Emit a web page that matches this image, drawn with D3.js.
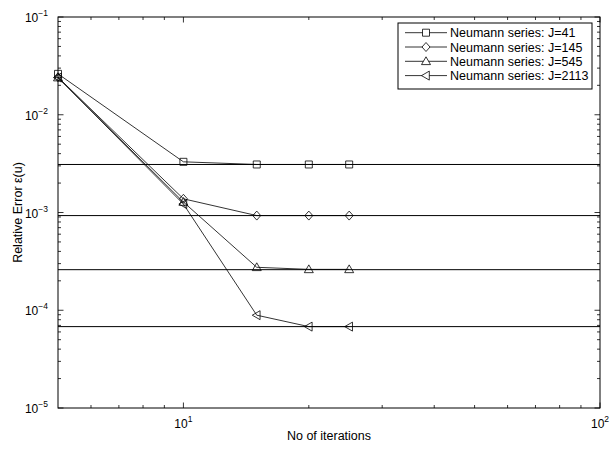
<!DOCTYPE html>
<html><head><meta charset="utf-8">
<script src="https://cdn.jsdelivr.net/npm/d3@7"></script>
<style>
body{margin:0;background:#fff;}
text{font-family:"Liberation Sans",Arial,Helvetica,sans-serif;fill:#000;}
</style></head>
<body><svg id="chart" width="612" height="450"></svg>
<script>
const iterations = [5, 10, 15, 20, 25];
const seriesNames = ["Neumann series: J=41", "Neumann series: J=145", "Neumann series: J=545", "Neumann series: J=2113"];
const markerTypes = ["square", "diamond", "triangleUp", "triangleLeft"];
const errJ41 = [2.62e-2, 3.3e-3, 3.1e-3, 3.1e-3, 3.1e-3];
const errJ145 = [2.42e-2, 1.38e-3, 9.3e-4, 9.3e-4, 9.3e-4];
const errJ545 = [2.4e-2, 1.28e-3, 2.75e-4, 2.62e-4, 2.62e-4];
const errJ2113 = [2.4e-2, 1.22e-3, 8.9e-5, 6.8e-5, 6.8e-5];
const referenceLevels = [3.1e-3, 9.3e-4, 2.6e-4, 6.8e-5];
const xTickValues = [10, 100];
const yTickValues = [1e-5, 1e-4, 1e-3, 1e-2, 1e-1];
const xLabel = "No of iterations";
const yLabel = "Relative Error \u03b5(u)";

const series = [errJ41, errJ145, errJ545, errJ2113].map((v, i) => ({name: seriesNames[i], marker: markerTypes[i], values: v}));

const svg = d3.select("#chart");
const L = 58, R = 600, T = 17, B = 408;
const x = d3.scaleLog().domain([5, 100]).range([L, R]);
const y = d3.scaleLog().domain([1e-5, 1e-1]).range([B, T]);

// minor ticks
const xMinor = [6,7,8,9,20,30,40,50,60,70,80,90];
const yMinor = [];
for (let e = -5; e < -1; e++) for (let m = 2; m <= 9; m++) yMinor.push(m * Math.pow(10, e));

const g = svg.append("g");
const tk = g.append("g").attr("stroke", "#000").attr("stroke-width", 0.8);
const major = 5.5, minor = 3;
xMinor.forEach(v => {
  const px = x(v);
  tk.append("line").attr("x1", px).attr("x2", px).attr("y1", B).attr("y2", B - minor);
  tk.append("line").attr("x1", px).attr("x2", px).attr("y1", T).attr("y2", T + minor);
});
xTickValues.forEach(v => {
  const px = x(v);
  tk.append("line").attr("x1", px).attr("x2", px).attr("y1", B).attr("y2", B - major);
  tk.append("line").attr("x1", px).attr("x2", px).attr("y1", T).attr("y2", T + major);
});
yMinor.forEach(v => {
  const py = y(v);
  tk.append("line").attr("x1", L).attr("x2", L + minor).attr("y1", py).attr("y2", py);
  tk.append("line").attr("x1", R).attr("x2", R - minor).attr("y1", py).attr("y2", py);
});
yTickValues.forEach(v => {
  const py = y(v);
  tk.append("line").attr("x1", L).attr("x2", L + major).attr("y1", py).attr("y2", py);
  tk.append("line").attr("x1", R).attr("x2", R - major).attr("y1", py).attr("y2", py);
});

// tick labels
const fs = 12;
xTickValues.forEach(v => {
  const t = g.append("text").attr("x", x(v)).attr("y", B + 20).attr("text-anchor", "middle").attr("font-size", fs);
  t.append("tspan").text("10");
  t.append("tspan").attr("font-size", 8.5).attr("dy", -6).text(Math.round(Math.log10(v)));
});
yTickValues.forEach(v => {
  const t = g.append("text").attr("x", L - 10).attr("y", y(v) + 5).attr("text-anchor", "end").attr("font-size", fs);
  t.append("tspan").text("10");
  t.append("tspan").attr("font-size", 8.5).attr("dy", -6).text("\u2212" + Math.round(-Math.log10(v)));
});

// axis labels
g.append("text").attr("x", (L + R) / 2).attr("y", 440).attr("text-anchor", "middle").attr("font-size", 12.5).text(xLabel);
g.append("text").attr("transform", `translate(22,${(T + B) / 2}) rotate(-90)`).attr("text-anchor", "middle").attr("font-size", 12.5).text(yLabel);

// reference lines
referenceLevels.forEach(v => {
  g.append("line").attr("x1", L).attr("x2", R).attr("y1", y(v)).attr("y2", y(v)).attr("stroke", "#000").attr("stroke-width", 1);
});

function markerPath(type) {
  const s = 3.5;
  switch (type) {
    case "square": return `M${-s},${-s}H${s}V${s}H${-s}Z`;
    case "diamond": return `M0,${-4.5}L${4},0L0,${4.5}L${-4},0Z`;
    case "triangleUp": return `M0,${-4.5}L${4.5},${3.3}L${-4.5},${3.3}Z`;
    case "triangleLeft": return `M${-4.5},0L${3.3},${-4.5}L${3.3},${4.5}Z`;
  }
}

const line = d3.line().x((d, i) => x(iterations[i])).y(d => y(d));
series.forEach(s => {
  g.append("path").attr("d", line(s.values)).attr("fill", "none").attr("stroke", "#000").attr("stroke-width", 0.8);
  s.values.forEach((v, i) => {
    g.append("path").attr("d", markerPath(s.marker)).attr("transform", `translate(${x(iterations[i])},${y(v)})`)
      .attr("fill", "none").attr("stroke", "#000").attr("stroke-width", 0.8);
  });
});

// axes box
g.append("rect").attr("x", L).attr("y", T).attr("width", R - L).attr("height", B - T).attr("fill", "none").attr("stroke", "#000").attr("stroke-width", 1);

// legend
const lg = g.append("g");
const lx = 398, ly = 23, lw = 194, lh = 66;
lg.append("rect").attr("x", lx).attr("y", ly).attr("width", lw).attr("height", lh).attr("fill", "#fff").attr("stroke", "#000").attr("stroke-width", 1);
series.forEach((s, i) => {
  const cy = ly + 9.7 + i * 14.3;
  lg.append("line").attr("x1", lx + 7).attr("x2", lx + 49).attr("y1", cy).attr("y2", cy).attr("stroke", "#000").attr("stroke-width", 0.8);
  lg.append("path").attr("d", markerPath(s.marker)).attr("transform", `translate(${lx + 28},${cy})`).attr("fill", "#fff").attr("stroke", "#000").attr("stroke-width", 0.8);
  lg.append("text").attr("x", lx + 52).attr("y", cy + 4.5).attr("font-size", 12.5).text(s.name);
});
</script></body></html>
